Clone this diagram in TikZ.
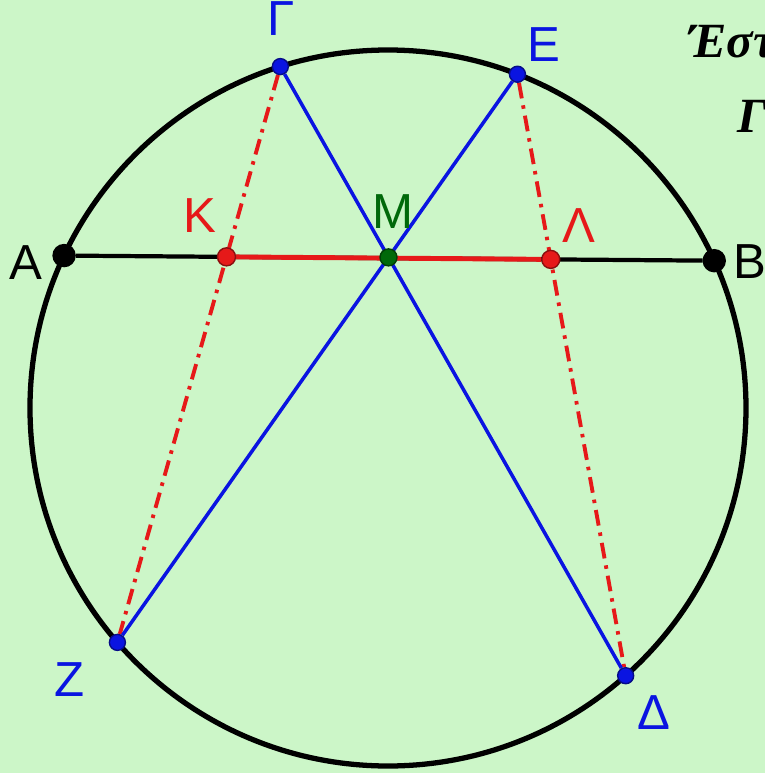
\documentclass[tikz,border=0pt]{standalone}
\usepackage{fontspec}
\setmainfont{Liberation Serif}
\setsansfont{Liberation Sans}
\usetikzlibrary{calc, backgrounds}
\definecolor{paper}{RGB}{204,246,200}
\definecolor{ptblue}{RGB}{10,20,225}
\definecolor{ptred}{RGB}{230,25,25}
\definecolor{ptgreen}{RGB}{0,105,10}

\begin{document}
\begin{tikzpicture}[
    font=\sffamily\fontsize{14}{16}\selectfont,
    rim/.style={draw=black, line width=1.5pt},
    chord/.style={ptblue, line width=1pt},
    aux/.style={ptred, line width=1.1pt,
                dash pattern=on 4.5pt off 2pt on 1pt off 2pt},
    pt/.style={circle, draw=#1!60!black, fill=#1, inner sep=0pt,
               minimum size=0.16cm},
    lbl/.style={inner sep=0pt, text=#1},
    cut/.style={font=\rmfamily\bfseries\itshape\fontsize{14}{16}\selectfont,
                anchor=base west, inner sep=0pt}
  ]
  \useasboundingbox (-3.88,-3.65) rectangle (3.77,4.08);
  \clip (-3.88,-3.65) rectangle (3.77,4.08);
  \coordinate (O) at (0,0);

  % points on the circle
  \node[pt=black, minimum size=0.22cm] (A) at (154.8:3.58) {};
  \node[pt=black, minimum size=0.22cm] (B) at (24.3:3.58) {};
  \node[pt=ptblue] (G) at (107.5:3.58) {};
  \node[pt=ptblue] (E) at (68.8:3.58) {};
  \node[pt=ptblue] (Z) at (220.9:3.58) {};
  \node[pt=ptblue] (D) at (311.6:3.58) {};
  % intersections with the chord AB
  \node[pt=ptgreen, minimum size=0.17cm] (M) at (intersection of G--D and E--Z) {};
  \node[pt=ptred, minimum size=0.18cm] (K) at (intersection of A--B and G--Z) {};
  \node[pt=ptred, minimum size=0.18cm] (L) at (intersection of A--B and E--D) {};

  \begin{pgfonlayer}{background}
    \fill[paper] (-3.88,-3.65) rectangle (3.77,4.08);
    \draw[rim] (O) circle (3.58);
    \draw[black, line width=1.2pt] (A) -- (B);
    \draw[ptred, line width=1.4pt] (K) -- (L);
    \draw[aux] (G) -- (Z);
    \draw[aux] (E) -- (D);
    \draw[chord] (G) -- (D);
    \draw[chord] (E) -- (Z);
  \end{pgfonlayer}

  % labels
  \node[lbl=black] (tA) at ($(A)+(-0.38,-0.07)$) {Α};
  \node[lbl=black] (tB) at ($(B)+(0.36,-0.01)$) {Β};
  \node[lbl=ptblue] (tG) at ($(G)+(0.01,0.48)$) {Γ};
  \node[lbl=ptblue] (tE) at ($(E)+(0.26,0.30)$) {Ε};
  \node[lbl=ptblue] (tZ) at ($(Z)+(-0.48,-0.37)$) {Ζ};
  \node[lbl=ptblue] (tD) at ($(D)+(0.28,-0.37)$) {Δ};
  \node[lbl=ptgreen] (tM) at ($(M)+(0.04,0.46)$) {Μ};
  \node[lbl=ptred] (tK) at ($(K)+(-0.27,0.41)$) {Κ};
  \node[lbl=ptred] (tL) at ($(L)+(0.28,0.34)$) {Λ};

  % text cut off at the right edge
  \node[cut] (txt1) at (3.0,3.51) {Έστω};
  \node[cut] (txt2) at (3.49,2.76) {Γ};
\end{tikzpicture}
\end{document}
